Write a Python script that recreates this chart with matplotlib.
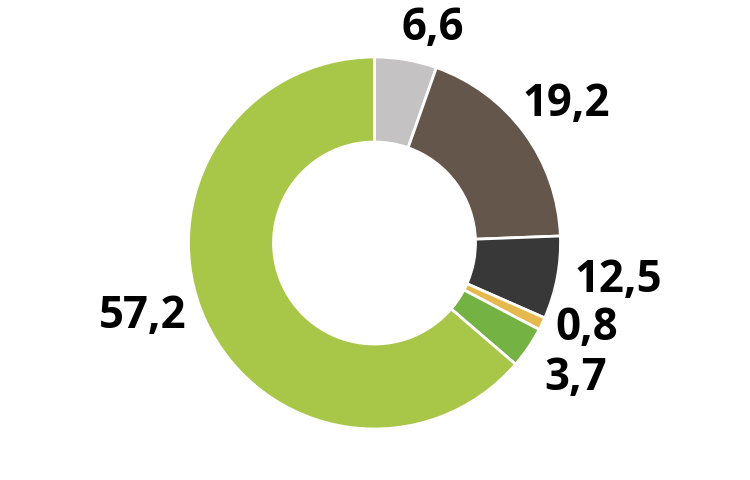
import matplotlib.pyplot as plt

# slice sizes as drawn and the printed labels
shares = [5.4, 19.0, 7.2, 1.1, 3.6, 63.7]
labels = ["6,6", "19,2", "12,5", "0,8", "3,7", "57,2"]
colors = ["#C4C2C3", "#64564B", "#383838", "#E6B94F", "#74B243", "#A8C748"]

# label centres in pixel coordinates (y from top)
label_pos = [(433, 28), (566, 105), (618, 280), (587, 329), (576, 379), (143, 316)]

fig = plt.figure(figsize=(7.5, 4.8), dpi=100)
ax = fig.add_axes([0, 0, 1, 1])

ax.pie(shares, colors=colors, startangle=90, counterclock=False,
       center=(374.5, 237), radius=186, frame=True,
       wedgeprops=dict(width=85, edgecolor="white", linewidth=2))
ax.set_xlim(0, 750)
ax.set_ylim(0, 480)
ax.set_aspect("auto")
ax.axis("off")

for txt, (x, y) in zip(labels, label_pos):
    ax.text(x, 480 - y, txt, ha="center", va="center", fontsize=31.5,
            fontweight="bold", family="Open Sans", color="black")

fig.savefig("out.png", dpi=100)
